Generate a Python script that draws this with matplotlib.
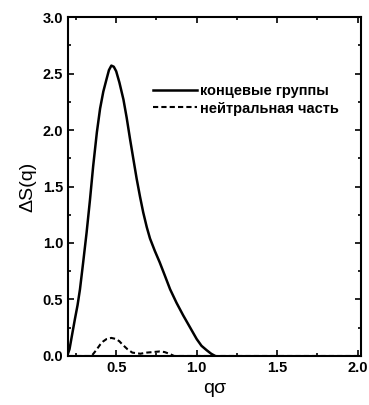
import matplotlib
matplotlib.use("Agg")
import matplotlib.pyplot as plt
from matplotlib.ticker import MultipleLocator

plt.rcParams['font.family'] = ['Liberation Sans', 'DejaVu Sans']

# концевые группы (solid)
q_end = [0.20, 0.21, 0.225, 0.244, 0.26, 0.275, 0.295, 0.316, 0.337, 0.357, 0.38,
         0.40, 0.42, 0.44, 0.455, 0.47, 0.485, 0.50, 0.52, 0.545, 0.565,
         0.586, 0.607, 0.627, 0.648, 0.668, 0.69, 0.71, 0.74, 0.77, 0.80,
         0.835, 0.875, 0.916, 0.96, 1.0, 1.03, 1.063, 1.09, 1.115]
s_end = [0.02, 0.06, 0.18, 0.33, 0.45, 0.59, 0.83, 1.09, 1.38, 1.68, 1.98,
         2.19, 2.34, 2.45, 2.53, 2.57, 2.56, 2.52, 2.42, 2.27, 2.11,
         1.92, 1.74, 1.57, 1.41, 1.27, 1.14, 1.04, 0.93, 0.83, 0.72,
         0.59, 0.47, 0.36, 0.25, 0.15, 0.09, 0.05, 0.02, 0.0]

# нейтральная часть (dashed)
q_neu = [0.20, 0.347, 0.375, 0.40, 0.42, 0.44, 0.47, 0.50, 0.52, 0.54, 0.57, 0.60,
         0.65, 0.69, 0.73, 0.77, 0.80, 0.83, 0.86, 2.0]
s_neu = [0.0, 0.0, 0.05, 0.10, 0.13, 0.15, 0.16, 0.15, 0.13, 0.10, 0.06, 0.03,
         0.02, 0.03, 0.035, 0.04, 0.035, 0.02, 0.0, 0.0]

fig = plt.figure(figsize=(3.69, 4.05), dpi=100)
ax = fig.add_axes([0.184, 0.121, 0.794, 0.837])

ax.plot(q_end, s_end, color='black', lw=1.8, label='концевые группы')
ax.plot(q_neu, s_neu, color='black', lw=1.5, ls=(0, (2.5, 1.5)), label='нейтральная часть')

ax.set_xlim(0.2, 2.02)
ax.set_ylim(0, 3.0)
ax.xaxis.set_major_locator(MultipleLocator(0.5))
ax.xaxis.set_minor_locator(MultipleLocator(0.25))
ax.yaxis.set_major_locator(MultipleLocator(0.5))
ax.yaxis.set_minor_locator(MultipleLocator(0.25))
ax.tick_params(which='both', direction='in', top=True, right=True, width=1.2)
ax.tick_params(which='major', length=4, labelsize=10.5)
ax.tick_params(which='minor', length=2)
for lab in ax.get_xticklabels() + ax.get_yticklabels():
    lab.set_fontweight('bold')
for sp in ax.spines.values():
    sp.set_linewidth(1.5)

ax.set_xlabel('qσ', fontsize=14)
ax.set_ylabel('ΔS(q)', fontsize=14)

ax.legend(loc='upper left', bbox_to_anchor=(0.27, 0.82), frameon=False,
          handlelength=3.0, handletextpad=0.2, labelspacing=0.25,
          borderaxespad=0.0, prop={'weight': 'bold', 'size': 10.5})

fig.savefig('out.png', dpi=100)
